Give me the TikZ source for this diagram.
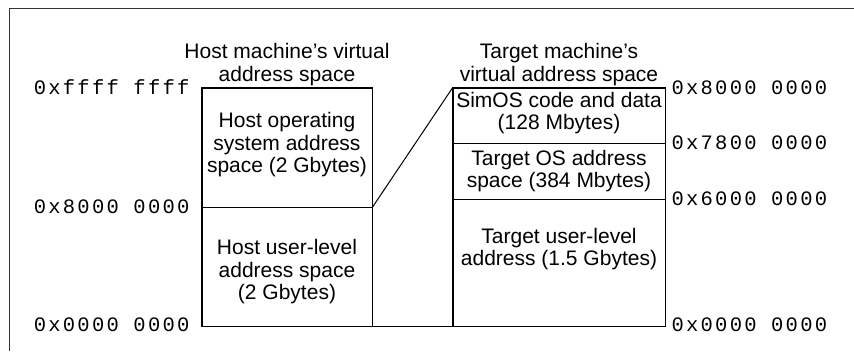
\documentclass[tikz,border=0pt]{standalone}
\usepackage{fontspec}
\setmainfont{Liberation Sans}
\setmonofont[LetterSpace=11]{Liberation Mono}
\usetikzlibrary{positioning}
\tikzstyle{part}=[draw, line width=0.7pt, inner sep=0]
\tikzstyle{hostpart}=[part, minimum width=170pt, minimum height=119pt]
\tikzstyle{tgtpart}=[part, minimum width=212pt]
\tikzstyle{txt}=[align=center, inner sep=0, font=\fontsize{21}{22.5}\selectfont]
\tikzstyle{ttl}=[align=center, inner sep=1pt, font=\fontsize{21}{22.5}\selectfont]
\tikzstyle{addr}=[inner sep=0, font=\ttfamily\fontsize{20.5}{20.5}\selectfont]
\tikzstyle{box}=[line width=1.3pt]

\begin{document}
\begin{tikzpicture}[x=1pt, y=-1pt]
    \useasboundingbox (0,0) rectangle (854,351);
    \draw[black!80, line width=0.8pt] (9,351) -- (9,8) -- (854,8);
    % host side
    \node[hostpart] (hos) at (287,147.5) {};
    \node[hostpart] (hus) at (287,266.5) {};
    \draw[box] (hos.north west) rectangle (hus.south east);
    \node[txt] (host1) at ([yshift=2.5pt]hos.center) {Host operating\\system address\\space (2 Gbytes)};
    \node[txt] (host2) at ([yshift=-5.5pt]hus.center) {Host user-level\\address space\\(2 Gbytes)};
    \node[ttl, above=1pt of hos.north] (hostttl) {Host machine's virtual\\address space};
    % target side
    \node[tgtpart, minimum height=55pt] (sim) at (559,115.5) {};
    \node[tgtpart, minimum height=56pt] (tos) at (559,171) {};
    \node[tgtpart, minimum height=127pt] (tus) at (559,262.5) {};
    \draw[box] (sim.north west) rectangle (tus.south east);
    \node[txt] (tgt1) at ([yshift=2.5pt]sim.center) {SimOS code and data\\(128 Mbytes)};
    \node[txt] (tgt2) at (tos.center) {Target OS address\\space (384 Mbytes)};
    \node[txt] (tgt3) at ([yshift=13.5pt]tus.center) {Target user-level\\address (1.5 Gbytes)};
    \node[ttl, above=1pt of sim.north] (tgtttl) {Target machine's\\virtual address space};
    % mapping
    \draw[line width=1pt] (hos.south east) -- (sim.north west);
    \draw[box] (hus.south east) -- (tus.south west);
    % addresses
    \node[addr, left=12pt of hos.north west] (a1) {0xffff ffff};
    \node[addr, left=12pt of hus.north west] (a2) {0x8000 0000};
    \node[addr, left=12pt of hus.south west, yshift=2pt] (a3) {0x0000 0000};
    \node[addr, right=6pt of sim.north east] (b1) {0x8000 0000};
    \node[addr, right=6pt of tos.north east] (b2) {0x7800 0000};
    \node[addr, right=6pt of tus.north east] (b3) {0x6000 0000};
    \node[addr, right=6pt of tus.south east, yshift=2pt] (b4) {0x0000 0000};
\end{tikzpicture}
\end{document}
